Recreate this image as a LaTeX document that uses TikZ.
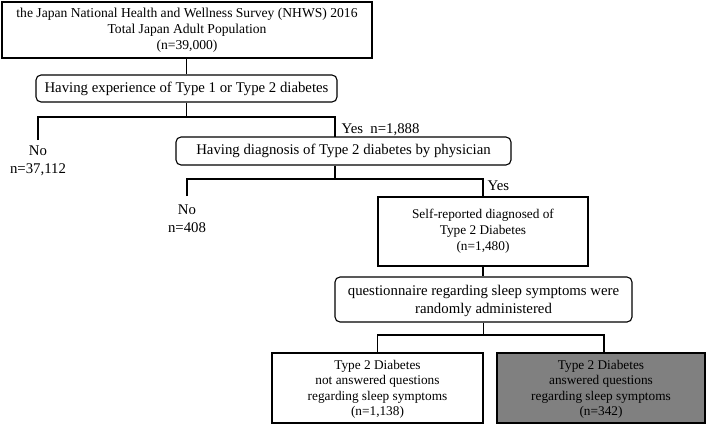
\documentclass[tikz,border=0pt]{standalone}
\usepackage{fontspec}
\setmainfont{Liberation Serif}
\begin{document}
\begin{tikzpicture}[x=1pt,y=-1pt,
  line width=1.1pt,
  sm/.style={font=\fontsize{13.3}{16}\selectfont},
  lg/.style={font=\fontsize{14.8}{18.3}\selectfont},
  sqbox/.style={draw,rectangle,align=center,inner sep=0pt},
  rbox/.style={draw,rectangle,rounded corners=5pt,align=center,inner sep=0pt},
  lbl/.style={align=center,inner sep=0pt}]
\useasboundingbox (0,0) rectangle (709,426);
\node[sqbox,font=\fontsize{13.6}{16}\selectfont,minimum width=370pt,minimum height=56pt] (top) at (187,30)
  {the Japan National Health and Wellness Survey (NHWS) 2016\\Total Japan Adult Population\\(n=39,000)};
\node[rbox,lg,minimum width=301pt,minimum height=27pt] (box2) at (186.5,88.5)
  {Having experience of Type 1 or Type 2 diabetes};
\node[rbox,lg,minimum width=335pt,minimum height=28pt] (box3) at (343.5,151)
  {Having diagnosis of Type 2 diabetes by physician};
\node[sqbox,sm,minimum width=210pt,minimum height=69pt] (box4) at (483,231.5)
  {Self-reported diagnosed of\\Type 2 Diabetes\\(n=1,480)};
\node[rbox,minimum width=297pt,minimum height=45pt] (box5) at (483.5,299.5) {};
\node[lbl,lg] (box5t) at (483.5,301) {questionnaire regarding sleep symptoms were\\randomly administered};
\node[sqbox,minimum width=211pt,minimum height=70pt] (bl) at (377.5,388) {};
\node[lbl,font=\fontsize{13.3}{15.5}\selectfont] (blt) at (377.5,389.5)
  {Type 2 Diabetes\\not answered questions\\regarding sleep symptoms\\(n=1,138)};
\node[sqbox,minimum width=208pt,minimum height=70pt,fill={rgb,255:red,128;green,128;blue,128}] (br) at (601,388) {};
\node[lbl,font=\fontsize{13.3}{15.5}\selectfont] (brt) at (601,389.5)
  {Type 2 Diabetes\\answered questions\\regarding sleep symptoms\\(n=342)};
% labels
\node[lbl,lg] (no1t) at (38,161) {No\\n=37,112};
\node[lbl,lg] (no2t) at (187,219) {No\\n=408};
\node[lbl,lg,anchor=west] (yes1) at (341,130) {Yes\ \ n=1,888};
\node[lbl,lg,anchor=west] (yes2) at (487,186) {Yes};
% coordinates
\coordinate (j1) at (186.5,117);
\coordinate (no1) at (38,140);
\coordinate (b3in) at (335,137);
\coordinate (j2) at (335,179);
\coordinate (no2) at (187,196);
\coordinate (j3) at (483.5,335);
\coordinate (brin) at (604,353);
% connectors
\draw (box2.north) -- (box2.north |- top.south);
\draw (box2.south) -- (j1);
\draw (no1) |- (j1) -| (b3in);
\draw (box3.south -| b3in) -- (j2);
\draw (no2) |- (j2) -| (box4.north);
\draw (box4.south) -- (box4.south |- box5.north);
\draw (box5.south -| j3) -- (j3);
\draw (bl.north) |- (j3) -| (brin);
\end{tikzpicture}
\end{document}
